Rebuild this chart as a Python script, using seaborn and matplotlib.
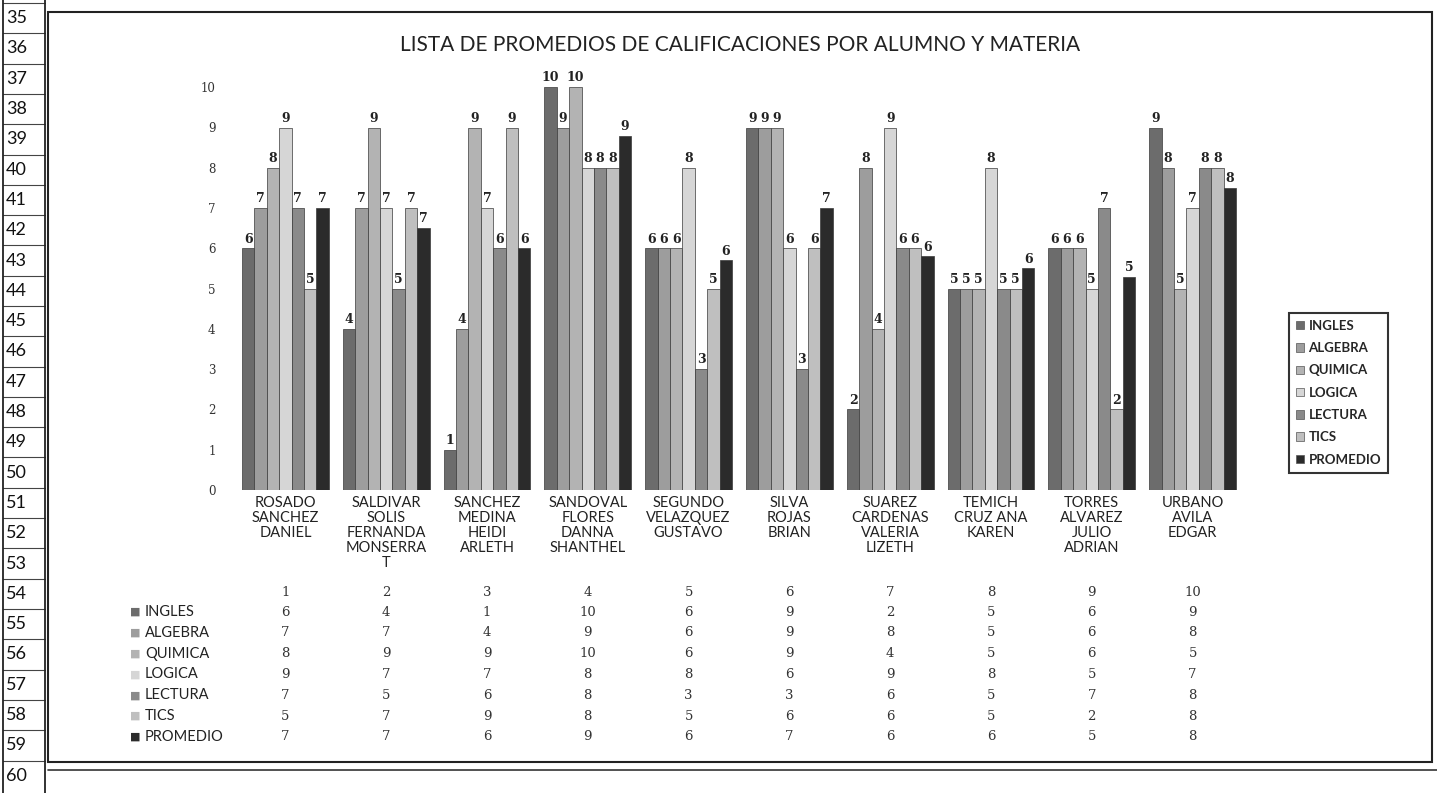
import matplotlib
matplotlib.use("Agg")
import matplotlib.pyplot as plt
import matplotlib.transforms as mtransforms
from matplotlib.patches import Rectangle, Patch
from matplotlib.lines import Line2D
import numpy as np
import pandas as pd
import seaborn as sns

# ---------------------------------------------------------------------------
# data

alumnos = [
    "ROSADO\nSANCHEZ\nDANIEL",
    "SALDIVAR\nSOLIS\nFERNANDA\nMONSERRA\nT",
    "SANCHEZ\nMEDINA\nHEIDI\nARLETH",
    "SANDOVAL\nFLORES\nDANNA\nSHANTHEL",
    "SEGUNDO\nVELAZQUEZ\nGUSTAVO",
    "SILVA\nROJAS\nBRIAN",
    "SUAREZ\nCARDENAS\nVALERIA\nLIZETH",
    "TEMICH\nCRUZ ANA\nKAREN",
    "TORRES\nALVAREZ\nJULIO\nADRIAN",
    "URBANO\nAVILA\nEDGAR",
]
numeros = [1, 2, 3, 4, 5, 6, 7, 8, 9, 10]
materias = ["INGLES", "ALGEBRA", "QUIMICA", "LOGICA", "LECTURA", "TICS", "PROMEDIO"]

ingles = [6, 4, 1, 10, 6, 9, 2, 5, 6, 9]
algebra = [7, 7, 4, 9, 6, 9, 8, 5, 6, 8]
quimica = [8, 9, 9, 10, 6, 9, 4, 5, 6, 5]
logica = [9, 7, 7, 8, 8, 6, 9, 8, 5, 7]
lectura = [7, 5, 6, 8, 3, 3, 6, 5, 7, 8]
tics = [5, 7, 9, 8, 5, 6, 6, 5, 2, 8]
promedio = [7.0, 6.5, 6.0, 8.8, 5.7, 7.0, 5.8, 5.5, 5.3, 7.5]   # bar heights
promedio_tabla = [7, 7, 6, 9, 6, 7, 6, 6, 5, 8]                 # shown values

colores = ["#6c6c6c", "#9d9d9d", "#b3b3b3", "#d6d6d6", "#8a8a8a", "#bfbfbf", "#2b2b2b"]

series = [ingles, algebra, quimica, logica, lectura, tics, promedio]
etiquetas = [ingles, algebra, quimica, logica, lectura, tics, promedio_tabla]

df = pd.DataFrame(
    [(a, m, v) for m, vals in zip(materias, series) for a, v in zip(alumnos, vals)],
    columns=["alumno", "materia", "nota"],
)

# ---------------------------------------------------------------------------

W, H = 1437, 793
sns.set_theme(style="white")
plt.rcParams["font.family"] = ["Lato", "DejaVu Sans"]


def fx(px):
    return px / W


def fy(px):
    return 1 - px / H


fig = plt.figure(figsize=(W / 100, H / 100), dpi=100)
fig.patch.set_facecolor("white")
ax = fig.add_axes([fx(235), fy(490), fx(1243) - fx(235), fy(55) - fy(490)])

sns.barplot(
    data=df, x="alumno", y="nota", hue="materia", order=alumnos, hue_order=materias,
    palette=colores, saturation=1, width=0.86, edgecolor="#3a3a3a", linewidth=0.5,
    legend=False, ax=ax,
)

for cont, labs in zip(ax.containers, etiquetas):
    ax.bar_label(cont, labels=[str(v) for v in labs], padding=2, fontsize=9,
                 fontweight="bold", family="DejaVu Serif", color="#222222")

ax.set_xlim(-0.5, len(alumnos) - 0.5)
ax.set_ylim(0, 10.8)
ax.set_yticks(range(0, 11))
ax.set_yticklabels([str(i) for i in range(0, 11)], family="DejaVu Serif", fontsize=8.5,
                   color="#333333")
ax.tick_params(axis="y", length=0, pad=14)
ax.tick_params(axis="x", length=0, pad=4, labelsize=10.5, labelcolor="#222222")
for lab in ax.get_xticklabels():
    lab.set_linespacing(1.1)
ax.set_xlabel("")
ax.set_ylabel("")
sns.despine(ax=ax, left=True, bottom=True)

fig.text(fx(740), fy(45), "LISTA DE PROMEDIOS DE CALIFICACIONES POR ALUMNO Y MATERIA",
         ha="center", va="center", fontsize=15, color="#222222")

# legend box on the right
handles = [Patch(facecolor=c, edgecolor="#555555", linewidth=0.5) for c in colores]
leg = fig.legend(handles, materias, loc="upper left", bbox_to_anchor=(fx(1282), fy(306)),
                 frameon=True, fancybox=False, labelspacing=0.78,
                 handlelength=0.6, handleheight=0.6, handletextpad=0.35, borderpad=0.55,
                 prop={"weight": "bold", "size": 9.5})
leg.get_frame().set_edgecolor("black")
leg.get_frame().set_linewidth(1.5)

# data table under the chart
tr = mtransforms.blended_transform_factory(ax.transData, fig.transFigure)
for i, n in enumerate(numeros):
    ax.text(i, fy(592), str(n), transform=tr, ha="center", va="center", fontsize=9.5,
            family="DejaVu Serif", color="#333333")
for r, (m, c, labs) in enumerate(zip(materias, colores, etiquetas)):
    y = fy(612 + r * 20.8)
    fig.text(fx(135), y, "■", ha="center", va="center", fontsize=8, color=c,
             family="DejaVu Sans")
    fig.text(fx(145), y, m, ha="left", va="center", fontsize=10.5, color="#222222")
    for i, v in enumerate(labs):
        ax.text(i, y, str(v), transform=tr, ha="center", va="center", fontsize=9.5,
                family="DejaVu Serif", color="#333333")

# chart frame
fig.add_artist(Rectangle((fx(48), fy(762)), fx(1432) - fx(48), fy(12) - fy(762),
                         transform=fig.transFigure, fill=False, edgecolor="#222222",
                         linewidth=1.5))
fig.add_artist(Line2D([fx(48), fx(1437)], [fy(770), fy(770)], transform=fig.transFigure,
                      color="#333333", linewidth=1.2))

# spreadsheet row numbers along the left edge
row_h = 30.3
for k, num in enumerate(range(35, 61)):
    top = 3 + k * row_h
    fig.text(fx(6), fy(top + row_h / 2), str(num), ha="left", va="center", fontsize=13,
             color="#111111")
    fig.add_artist(Line2D([fx(3), fx(45)], [fy(top), fy(top)], transform=fig.transFigure,
                          color="#444444", linewidth=0.8))
for x in (3, 45):
    fig.add_artist(Line2D([fx(x), fx(x)], [fy(0), fy(793)], transform=fig.transFigure,
                          color="#222222", linewidth=1.3))

fig.savefig("out.png", dpi=100, facecolor="white")
plt.close(fig)
